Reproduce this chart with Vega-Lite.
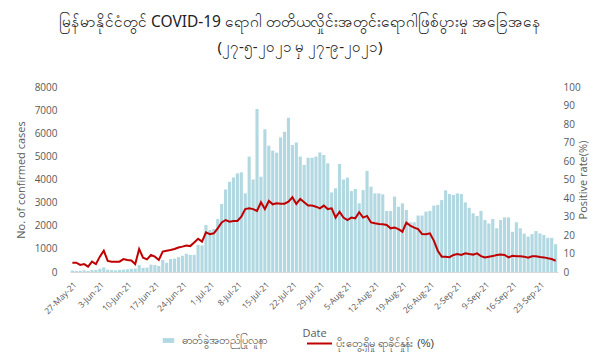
{
"$schema": "https://vega.github.io/schema/vega-lite/v6.json",
"width": 488, "height": 185,
"autosize": {"type": "none"},
"padding": {"left": 70, "top": 87, "right": 42, "bottom": 85},
"background": "white",
"title": {"text": "မြန်မာနိုင်ငံတွင် COVID-19 ရောဂါ တတိယလှိုင်းအတွင်းရောဂါဖြစ်ပွားမှု အခြေအနေ", "subtitle": "(၂၇-၅-၂၀၂၁ မှ ၂၇-၉-၂၀၂၁)", "anchor": "middle", "dx": -14, "offset": 27, "font": "Noto Sans", "fontSize": 15.5, "fontWeight": "normal", "subtitleFont": "Noto Sans", "subtitleFontSize": 15, "color": "#222222", "subtitleColor": "#222222", "subtitlePadding": 10},
"config": {"view": {"stroke": null}, "axis": {"labelFont": "Open Sans", "titleFont": "Open Sans", "labelColor": "#595959", "titleColor": "#595959", "titleFontWeight": "normal"}},
"data": {"values": [
{"d":"27-May-21","c":60,"r":5.0},{"d":"28-May-21","c":50,"r":5.0},{"d":"29-May-21","c":55,"r":3.8},{"d":"30-May-21","c":70,"r":4.3},{"d":"31-May-21","c":45,"r":2.9},
{"d":"1-Jun-21","c":80,"r":5.6},{"d":"2-Jun-21","c":90,"r":4.3},{"d":"3-Jun-21","c":140,"r":8.3},{"d":"4-Jun-21","c":200,"r":11.5},{"d":"5-Jun-21","c":100,"r":6.0},{"d":"6-Jun-21","c":80,"r":5.6},{"d":"7-Jun-21","c":70,"r":5.6},{"d":"8-Jun-21","c":90,"r":5.6},{"d":"9-Jun-21","c":100,"r":7.0},{"d":"10-Jun-21","c":120,"r":6.5},{"d":"11-Jun-21","c":140,"r":6.2},{"d":"12-Jun-21","c":150,"r":4.3},{"d":"13-Jun-21","c":300,"r":12.4},{"d":"14-Jun-21","c":180,"r":7.7},{"d":"15-Jun-21","c":190,"r":6.8},{"d":"16-Jun-21","c":320,"r":9.2},{"d":"17-Jun-21","c":300,"r":8.3},{"d":"18-Jun-21","c":260,"r":6.5},{"d":"19-Jun-21","c":520,"r":11.0},{"d":"20-Jun-21","c":400,"r":11.5},{"d":"21-Jun-21","c":560,"r":11.9},{"d":"22-Jun-21","c":580,"r":12.4},{"d":"23-Jun-21","c":640,"r":13.2},{"d":"24-Jun-21","c":700,"r":13.7},{"d":"25-Jun-21","c":790,"r":14.3},{"d":"26-Jun-21","c":740,"r":14.0},{"d":"27-Jun-21","c":740,"r":16.0},{"d":"28-Jun-21","c":1170,"r":18.0},{"d":"29-Jun-21","c":1150,"r":16.4},{"d":"30-Jun-21","c":2030,"r":21.4},
{"d":"1-Jul-21","c":1820,"r":20.4},{"d":"2-Jul-21","c":1860,"r":20.9},{"d":"3-Jul-21","c":2290,"r":23.6},{"d":"4-Jul-21","c":2940,"r":26.8},{"d":"5-Jul-21","c":3570,"r":28.1},{"d":"6-Jul-21","c":3900,"r":27.2},{"d":"7-Jul-21","c":4090,"r":27.6},{"d":"8-Jul-21","c":4265,"r":27.6},{"d":"9-Jul-21","c":4310,"r":29.9},{"d":"10-Jul-21","c":3400,"r":34.0},{"d":"11-Jul-21","c":4990,"r":34.4},{"d":"12-Jul-21","c":4000,"r":34.0},{"d":"13-Jul-21","c":7050,"r":33.0},{"d":"14-Jul-21","c":4120,"r":37.7},{"d":"15-Jul-21","c":6170,"r":34.0},{"d":"16-Jul-21","c":5460,"r":38.4},{"d":"17-Jul-21","c":5250,"r":36.6},{"d":"18-Jul-21","c":5160,"r":37.1},{"d":"19-Jul-21","c":5820,"r":36.9},{"d":"20-Jul-21","c":6070,"r":36.9},{"d":"21-Jul-21","c":6670,"r":38.0},{"d":"22-Jul-21","c":5490,"r":40.4},{"d":"23-Jul-21","c":5600,"r":36.8},{"d":"24-Jul-21","c":4990,"r":39.5},{"d":"25-Jul-21","c":4630,"r":37.7},{"d":"26-Jul-21","c":4940,"r":35.9},{"d":"27-Jul-21","c":4940,"r":35.9},{"d":"28-Jul-21","c":4990,"r":35.3},{"d":"29-Jul-21","c":5170,"r":34.4},{"d":"30-Jul-21","c":5060,"r":35.9},{"d":"31-Jul-21","c":4700,"r":34.0},
{"d":"1-Aug-21","c":3440,"r":34.4},{"d":"2-Aug-21","c":3620,"r":29.4},{"d":"3-Aug-21","c":4670,"r":32.6},{"d":"4-Aug-21","c":4000,"r":29.4},{"d":"5-Aug-21","c":4080,"r":28.1},{"d":"6-Aug-21","c":3500,"r":29.4},{"d":"7-Aug-21","c":3590,"r":29.0},{"d":"8-Aug-21","c":2970,"r":32.3},{"d":"9-Aug-21","c":3540,"r":29.4},{"d":"10-Aug-21","c":4370,"r":30.3},{"d":"11-Aug-21","c":3690,"r":26.8},{"d":"12-Aug-21","c":3400,"r":26.3},{"d":"13-Aug-21","c":3400,"r":25.9},{"d":"14-Aug-21","c":3360,"r":25.8},{"d":"15-Aug-21","c":2640,"r":25.4},{"d":"16-Aug-21","c":2640,"r":23.6},{"d":"17-Aug-21","c":3260,"r":24.0},{"d":"18-Aug-21","c":2820,"r":23.2},{"d":"19-Aug-21","c":2970,"r":21.8},{"d":"20-Aug-21","c":2680,"r":26.7},{"d":"21-Aug-21","c":2150,"r":25.0},{"d":"22-Aug-21","c":2150,"r":24.0},{"d":"23-Aug-21","c":2440,"r":23.2},{"d":"24-Aug-21","c":2440,"r":20.5},{"d":"25-Aug-21","c":2610,"r":20.4},{"d":"26-Aug-21","c":2640,"r":20.9},{"d":"27-Aug-21","c":2870,"r":17.0},{"d":"28-Aug-21","c":2900,"r":11.5},{"d":"29-Aug-21","c":3110,"r":8.3},{"d":"30-Aug-21","c":3530,"r":8.3},{"d":"31-Aug-21","c":3370,"r":8.0},
{"d":"1-Sep-21","c":3330,"r":9.2},{"d":"2-Sep-21","c":3400,"r":9.7},{"d":"3-Sep-21","c":3370,"r":9.2},{"d":"4-Sep-21","c":3010,"r":10.1},{"d":"5-Sep-21","c":2780,"r":9.7},{"d":"6-Sep-21","c":2540,"r":9.4},{"d":"7-Sep-21","c":2420,"r":10.1},{"d":"8-Sep-21","c":2640,"r":8.6},{"d":"9-Sep-21","c":2250,"r":7.9},{"d":"10-Sep-21","c":2100,"r":8.3},{"d":"11-Sep-21","c":2290,"r":8.6},{"d":"12-Sep-21","c":1890,"r":9.2},{"d":"13-Sep-21","c":2250,"r":9.4},{"d":"14-Sep-21","c":2360,"r":9.2},{"d":"15-Sep-21","c":2360,"r":7.9},{"d":"16-Sep-21","c":1740,"r":8.8},{"d":"17-Sep-21","c":2150,"r":8.5},{"d":"18-Sep-21","c":1890,"r":8.5},{"d":"19-Sep-21","c":1660,"r":8.3},{"d":"20-Sep-21","c":1530,"r":7.7},{"d":"21-Sep-21","c":1640,"r":8.5},{"d":"22-Sep-21","c":1770,"r":8.5},{"d":"23-Sep-21","c":1670,"r":8.1},{"d":"24-Sep-21","c":1600,"r":7.9},{"d":"25-Sep-21","c":1480,"r":7.4},{"d":"26-Sep-21","c":1480,"r":7.0},{"d":"27-Sep-21","c":1200,"r":6.1}
]},
"layer": [
{"mark": {"type": "bar", "color": "#b2d9e2"},
 "encoding": {
  "x": {"field": "d", "type": "ordinal", "sort": null, "scale": {"paddingInner": 0.2, "paddingOuter": 0.2},
   "axis": {"title": "Date", "titleFontSize": 11, "titlePadding": 12, "values": ["27-May-21","3-Jun-21","10-Jun-21","17-Jun-21","24-Jun-21","1-Jul-21","8-Jul-21","15-Jul-21","22-Jul-21","29-Jul-21","5-Aug-21","12-Aug-21","19-Aug-21","26-Aug-21","2-Sep-21","9-Sep-21","16-Sep-21","23-Sep-21"], "labelAngle": -45, "labelFontSize": 8.5, "ticks": false, "domainColor": "#d9d9d9", "labelPadding": 8}},
  "y": {"field": "c", "type": "quantitative", "scale": {"domain": [0, 8000]},
   "axis": {"title": "No. of confirmed cases", "titleFontSize": 11, "format": "d", "values": [0,1000,2000,3000,4000,5000,6000,7000,8000], "grid": false, "domain": false, "ticks": false, "labelFontSize": 10, "labelPadding": 13, "titlePadding": 8}},
  "fill": {"datum": "ဓာတ်ခွဲအတည်ပြုလူနာ", "scale": {"range": ["#b2d9e2"]},
   "legend": {"title": null, "orient": "none", "legendX": 93, "legendY": 248, "symbolType": "M-1.2,-0.5H1.2V0.5H-1.2Z", "symbolSize": 92, "symbolStrokeWidth": 0, "labelFontSize": 11, "labelColor": "#404040", "labelOffset": 8}}
 }},
{"mark": {"type": "line", "color": "#c00000", "strokeWidth": 2},
 "encoding": {
  "x": {"field": "d", "type": "ordinal", "sort": null},
  "y": {"field": "r", "type": "quantitative", "scale": {"domain": [0, 100]},
   "axis": {"orient": "right", "title": "Positive rate(%)", "titleAngle": -90, "titleFontSize": 11, "values": [0,10,20,30,40,50,60,70,80,90,100], "grid": false, "domain": false, "ticks": false, "labelFontSize": 10, "labelPadding": 5, "titlePadding": 8}},
  "stroke": {"datum": "ပိုးတွေ့ရှိမှု ရာခိုင်နှုန်း (%)", "scale": {"range": ["#c00000"]},
   "legend": {"title": null, "orient": "none", "legendX": 236, "legendY": 243, "symbolType": "stroke", "symbolSize": 625, "symbolStrokeWidth": 2, "labelFontSize": 11, "labelColor": "#404040", "labelOffset": 3}}
 }}
],
"resolve": {"scale": {"y": "independent"}}
}
